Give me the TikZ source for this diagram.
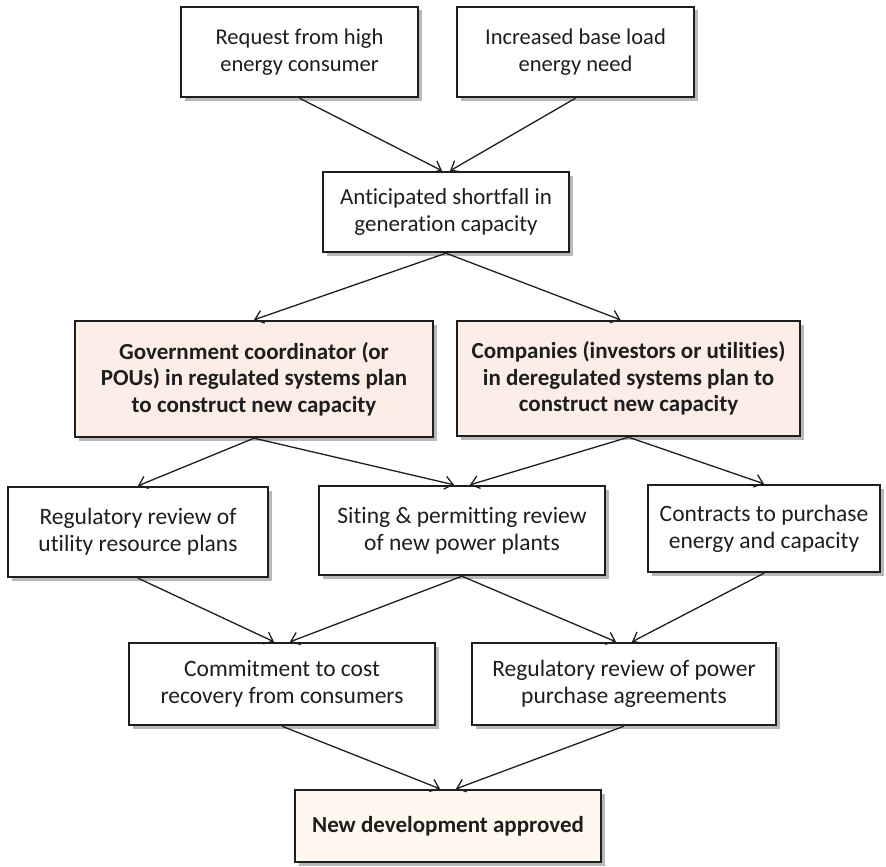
\documentclass[tikz,border=0pt]{standalone}
\usepackage{fontspec}
\setmainfont{Carlito}[Ligatures=NoCommon]
\usetikzlibrary{arrows.meta,shadows}
\definecolor{planfill}{HTML}{FCEDE6}
\definecolor{donefill}{HTML}{FFF8EE}
\definecolor{inkcol}{HTML}{1E1E1E}
\begin{document}
\begin{tikzpicture}[x=1pt,y=-1pt,
  box/.style={draw=inkcol, line width=2.4pt, fill=white, align=center,
    text=inkcol, inner sep=0pt, font=\fontsize{22.5}{27}\selectfont,
    drop shadow={shadow xshift=3.5pt, shadow yshift=-3.5pt, fill=black, opacity=0.28}},
  bigtext/.style={font=\fontsize{23.5}{27}\selectfont},
  planbox/.style={box, fill=planfill, font=\fontsize{23}{26.5}\selectfont\bfseries},
  donebox/.style={box, fill=donefill, font=\fontsize{23}{27}\selectfont\bfseries},
  arr/.style={draw=inkcol, line width=1.3pt, -{Straight Barb[length=8pt,width=13pt,line width=1.3pt]}}]
\useasboundingbox (0,0) rectangle (886,867);

% row 1: triggers
\node[box, minimum width=237, minimum height=90] (req) at (299.5,52)
  {Request from high\\energy consumer};
\node[box, minimum width=237, minimum height=90] (base) at (575.5,52)
  {Increased base load\\energy need};

% row 2: shortfall
\node[box, font=\fontsize{23}{27}\selectfont, minimum width=246, minimum height=80] (short) at (446,212)
  {Anticipated shortfall in\\generation capacity};

% row 3: planning bodies
\node[planbox, minimum width=358, minimum height=116] (gov) at (254,379)
  {Government coordinator (or\\POUs) in regulated systems plan\\to construct new capacity};
\node[planbox, minimum width=343, minimum height=115] (comp) at (628.5,378.5)
  {Companies (investors or utilities)\\in deregulated systems plan to\\construct new capacity};

% row 4: reviews and contracts
\node[box, bigtext, minimum width=260, minimum height=90] (utilrev) at (138,532)
  {Regulatory review of\\utility resource plans};
\node[box, bigtext, minimum width=286, minimum height=89] (siting) at (462,530.5)
  {Siting \& permitting review\\of new power plants};
\node[box, bigtext, minimum width=232, minimum height=87] (contr) at (764,528.5)
  {Contracts to purchase\\energy and capacity};

% row 5: commitments
\node[box, bigtext, minimum width=306, minimum height=82] (commit) at (282,684)
  {Commitment to cost\\recovery from consumers};
\node[box, bigtext, minimum width=304, minimum height=82] (ppa) at (624,684)
  {Regulatory review of power\\purchase agreements};

% row 6: outcome
\node[donebox, minimum width=306, minimum height=72] (approved) at (448,826)
  {New development approved};

% connectors
\draw[arr] (req.south) -- ([xshift=-4]short.north);
\draw[arr] (base.south) -- ([xshift=4]short.north);
\draw[arr] (short.south) -- (gov.north);
\draw[arr] (short.south) -- ([xshift=-8]comp.north);
\draw[arr] (gov.south) -- (utilrev.north);
\draw[arr] (gov.south) -- ([xshift=-8]siting.north);
\draw[arr] (comp.south) -- ([xshift=8]siting.north);
\draw[arr] (comp.south) -- (contr.north);
\draw[arr] (utilrev.south) -- ([xshift=-8]commit.north);
\draw[arr] (siting.south) -- ([xshift=8]commit.north);
\draw[arr] (siting.south) -- ([xshift=-8]ppa.north);
\draw[arr] (contr.south) -- ([xshift=8]ppa.north);
\draw[arr] (commit.south) -- ([xshift=-8]approved.north);
\draw[arr] (ppa.south) -- ([xshift=8]approved.north);
\end{tikzpicture}
\end{document}
